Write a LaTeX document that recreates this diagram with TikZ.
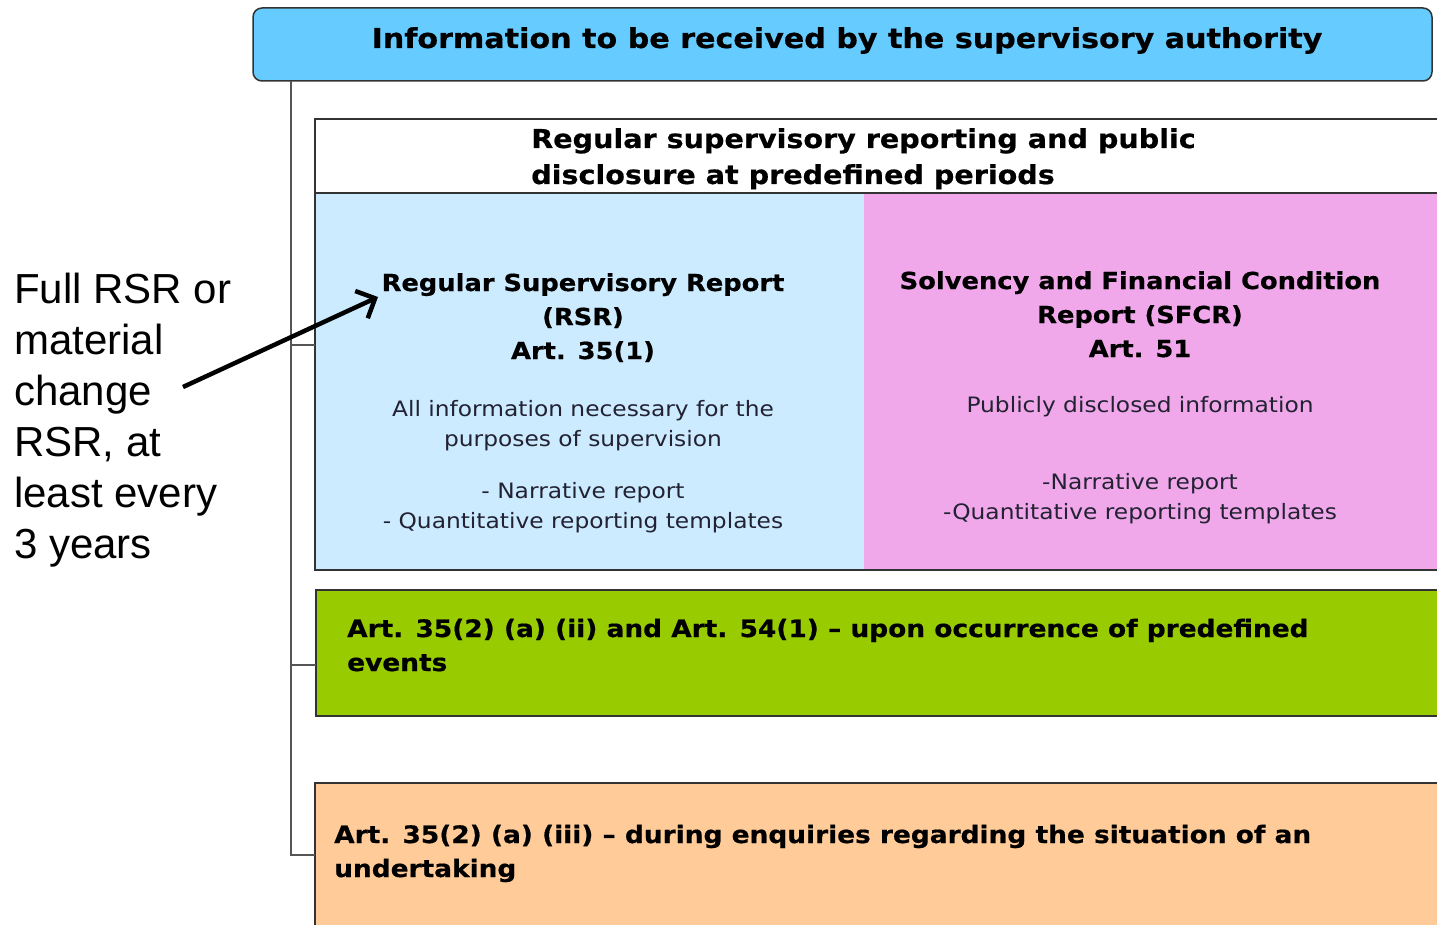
\documentclass[tikz,border=0pt]{standalone}
\usepackage{fontspec}
\setmainfont{DejaVu Sans}[FakeStretch=1.1, BoldFeatures={FakeBold=0.6}]
\newfontfamily\notefont{Liberation Sans}
\usetikzlibrary{arrows.meta}

\definecolor{hdrblue}{HTML}{66CCFF}
\definecolor{rsrblue}{HTML}{CCEBFF}
\definecolor{sfcrpink}{HTML}{F0A8EA}
\definecolor{eventgreen}{HTML}{99CC00}
\definecolor{enqorange}{HTML}{FFCC99}
\definecolor{edgegray}{HTML}{333333}
\definecolor{trunkgray}{HTML}{555555}
\definecolor{bodyink}{HTML}{222233}

\begin{document}
\begin{tikzpicture}[x=1pt,y=-1pt,
  panel/.style={inner sep=0pt, outer sep=0pt},
  edge/.style={draw=edgegray, line width=2pt},
  trunk/.style={draw=trunkgray, line width=2pt},
  titletext/.style={font=\fontsize{27.4}{33}\bfseries\selectfont, inner sep=0pt},
  headtext/.style={font=\fontsize{26}{36}\bfseries\selectfont, inner sep=0pt, align=left},
  subhead/.style={font=\fontsize{23.4}{34}\bfseries\selectfont, inner sep=0pt, align=center},
  bodytext/.style={font=\fontsize{21.2}{30}\selectfont, text=bodyink, inner sep=0pt, align=center},
  bartext/.style={font=\fontsize{24}{34}\bfseries\selectfont, inner sep=0pt, align=left},
  notetext/.style={font=\notefont\fontsize{42}{51}\selectfont, inner sep=0pt, align=left},
  pointer/.style={line width=4.5pt, -{Straight Barb[length=15pt,width=30pt]}}
]
\clip (0,0) rectangle (1437,925);
\fill[white] (0,0) rectangle (1437,925);

% header bar
\node[panel, draw=edgegray, line width=1.5pt, fill=hdrblue, rounded corners=9pt,
      minimum width=1179pt, minimum height=73pt] (top) at (842.5,44.5) {};
\node[titletext, anchor=base] (title) at (847,48)
  {Information to be received by the supervisory authority};

% periodic reporting group (multi-line texts are placed by their last baseline)
\node[panel, fill=white, minimum width=1130pt, minimum height=74pt] (periodic) at (880,156) {};
\node[panel, fill=rsrblue, minimum width=549pt, minimum height=377pt] (rsr) at (589.5,381.5) {};
\node[panel, fill=sfcrpink, minimum width=581pt, minimum height=377pt] (sfcr) at (1154.5,381.5) {};
\draw[edge] (periodic.north west) rectangle (sfcr.south east);
\draw[edge] (periodic.south west) -- (periodic.south east);

\node[headtext, anchor=base west] (periodictext) at (531,184)
  {Regular supervisory reporting and public\\disclosure at predefined periods};

\node[subhead, anchor=base] (rsrhead) at (583,359)
  {Regular Supervisory Report\\(RSR)\\Art. 35(1)};
\node[bodytext, anchor=base] (rsrbody) at (583,528)
  {All information necessary for the\\purposes of supervision\\[22pt]- Narrative report\\- Quantitative reporting templates};

\node[subhead, anchor=base] (sfcrhead) at (1140,357)
  {Solvency and Financial Condition\\Report (SFCR)\\Art. 51};
\node[bodytext, anchor=base] (sfcrbody) at (1140,519)
  {Publicly disclosed information\\[47pt]-Narrative report\\-Quantitative reporting templates};

% event-driven reporting
\node[panel, edge, fill=eventgreen, minimum width=1129pt, minimum height=126pt] (events) at (880.5,653) {};
\node[bartext, anchor=base west] (eventstext) at (347,671)
  {Art. 35(2) (a) (ii) and Art. 54(1) -- upon occurrence of predefined\\events};

% reporting on request
\node[panel, edge, fill=enqorange, minimum width=1130pt, minimum height=157pt] (enquiry) at (880,861.5) {};
\node[bartext, anchor=base west] (enquirytext) at (334,877)
  {Art. 35(2) (a) (iii) -- during enquiries regarding the situation of an\\undertaking};

% trunk line with branches
\coordinate (trunktop) at (291,81);
\coordinate (j1) at (291,345);
\coordinate (j2) at (291,665);
\coordinate (j3) at (291,855);
\draw[trunk] (trunktop) -- (j3) -- (j3 -| enquiry.west);
\draw[trunk] (j1) -- (j1 -| rsr.west);
\draw[trunk] (j2) -- (j2 -| events.west);

% side note and arrow
\node[notetext, anchor=base west] (note) at (14,558)
  {Full RSR or\\material\\change\\RSR, at\\least every\\3 years};
\coordinate (tail) at (183,387);
\coordinate (tip) at (378,297);
\draw[pointer] (tail) -- (tip);
\end{tikzpicture}
\end{document}
